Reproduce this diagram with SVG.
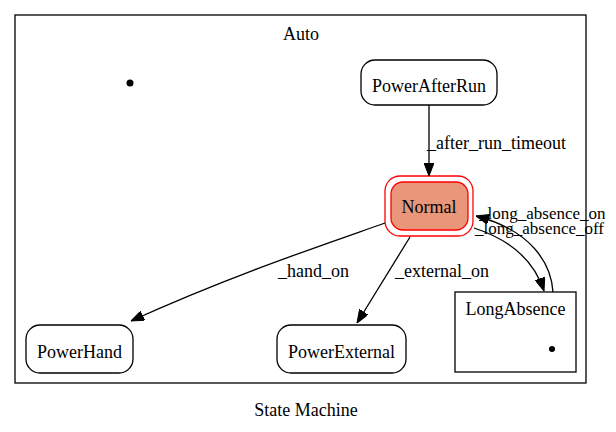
<svg xmlns="http://www.w3.org/2000/svg" width="616" height="432" viewBox="0 0 616 432">
<defs>
<style>
text{font-family:"Liberation Serif","Times New Roman",serif;font-size:18px;fill:#000}
.st{fill:#fff;stroke:#000;stroke-width:1.3}
.e{fill:none;stroke:#000;stroke-width:1.3}
.c{text-anchor:middle}
.sm{font-size:17px}
</style>
<marker id="ah" markerUnits="userSpaceOnUse" viewBox="0 0 13 10" markerWidth="13" markerHeight="10" refX="13" refY="5" orient="auto">
<path d="M0,0 L13,5 L0,10 z" fill="#000" stroke="#000"/>
</marker>
</defs>
<rect width="616" height="432" fill="#fff"/>
<g id="cluster_Auto">
<rect x="15" y="15" width="571" height="368" fill="none" stroke="#000" stroke-width="1.3"/>
<text class="c" x="301" y="40">Auto</text>
</g>
<g id="initial">
<circle cx="130" cy="83" r="3.5" fill="#000"/>
</g>
<g id="PowerAfterRun">
<rect class="st" x="361" y="60" width="136" height="45" rx="14"/>
<text class="c" x="429" y="92">PowerAfterRun</text>
</g>
<g id="Normal">
<rect x="385" y="176" width="88" height="60" rx="15" fill="none" stroke="#ff0000" stroke-width="1.3"/>
<rect x="391" y="182" width="77" height="48" rx="12" fill="#e9967a" stroke="#ff0000" stroke-width="1.3"/>
<text class="c" x="429" y="213">Normal</text>
</g>
<g id="PowerHand">
<rect class="st" x="26" y="325" width="107" height="48" rx="14"/>
<text class="c" x="79.5" y="358">PowerHand</text>
</g>
<g id="PowerExternal">
<rect class="st" x="277" y="325" width="129" height="48" rx="14"/>
<text class="c" x="341.5" y="358">PowerExternal</text>
</g>
<g id="LongAbsence">
<rect class="st" x="455" y="292" width="121" height="80"/>
<text class="c" x="515.5" y="315">LongAbsence</text>
<circle cx="552" cy="349" r="3" fill="#000"/>
</g>
<g id="edges">
<path class="e" d="M429,105 L429,176" marker-end="url(#ah)"/>
<text x="427" y="149">_after_run_timeout</text>
<path class="e" d="M385,223 C320,246 230,276 131,321" marker-end="url(#ah)"/>
<text x="278" y="277">_hand_on</text>
<path class="e" d="M410,237 L357,323" marker-end="url(#ah)"/>
<text x="395" y="277">_external_on</text>
<path class="e" d="M474,228 C505,238 533,257 544,291" marker-end="url(#ah)"/>
<path class="e" d="M553,292 C551,262 530,230 476,216" marker-end="url(#ah)"/>
<text class="sm" x="479" y="219">_long_absence_on</text>
<text class="sm" x="475" y="234">_long_absence_off</text>
</g>
<text class="c" x="306" y="416">State Machine</text>
</svg>
